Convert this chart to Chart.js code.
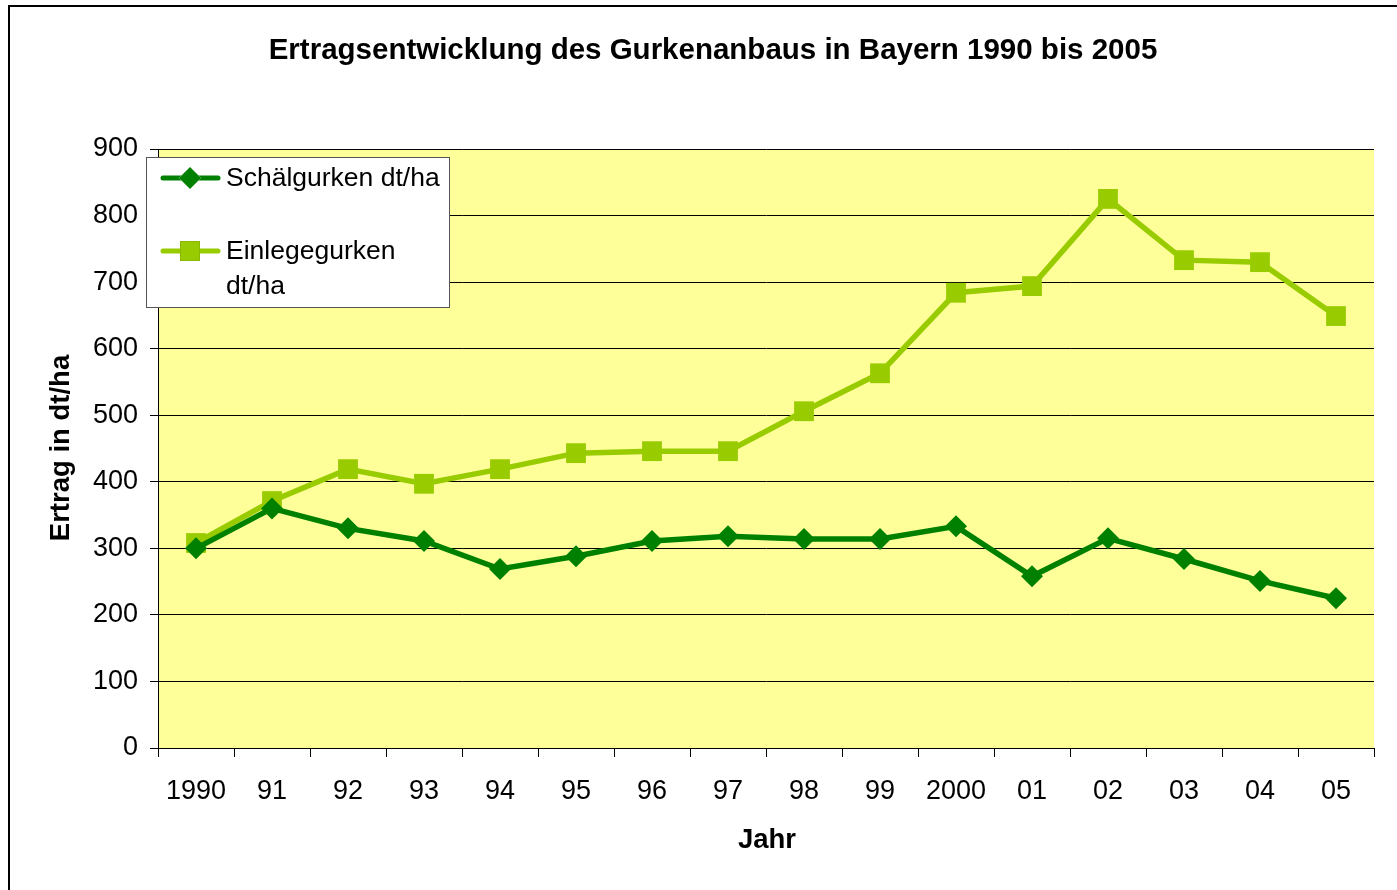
<!DOCTYPE html>
<html>
<head>
<meta charset="utf-8">
<script src="https://cdn.jsdelivr.net/npm/chart.js@4.4.1/dist/chart.umd.min.js"></script>
<style>
html,body{margin:0;padding:0;background:#fff;}
#wrap{width:1397px;height:890px;position:relative;}
</style>
</head>
<body>
<div id="wrap"><canvas id="c" width="1397" height="890"></canvas></div>
<script>
const categories = ['1990','91','92','93','94','95','96','97','98','99','2000','01','02','03','04','05'];
const schaelgurken = [300, 360, 330, 311, 269, 288, 311, 318, 314, 314, 333, 258, 315, 284, 251, 225];
const einlegegurken = [308, 371, 419, 397, 419, 443, 446, 446, 506, 563, 684, 694, 825, 733, 730, 649];
const yTicks = [0, 100, 200, 300, 400, 500, 600, 700, 800, 900];
const titleText = 'Ertragsentwicklung des Gurkenanbaus in Bayern 1990 bis 2005';
const xTitle = 'Jahr';
const yTitle = 'Ertrag in dt/ha';
const seriesNames = ['Schälgurken dt/ha', ['Einlegegurken', 'dt/ha']];

const DARK = '#008000';
const LIGHT = '#99CC00';
const FONT = '"Liberation Sans", Arial, sans-serif';

const decor = {
  id: 'decor',
  beforeDraw(chart) {
    const {ctx, chartArea: a} = chart;
    ctx.save();
    ctx.fillStyle = '#FFFF99';
    ctx.fillRect(a.left, a.top, a.right - a.left, a.bottom - a.top);
    ctx.restore();
  },
  afterDraw(chart) {
    const {ctx} = chart;
    ctx.save();
    // outer border
    ctx.strokeStyle = '#000';
    ctx.lineWidth = 2;
    ctx.beginPath();
    ctx.moveTo(9, 900); ctx.lineTo(9, 6); ctx.lineTo(1400, 6);
    ctx.stroke();
    // title
    ctx.fillStyle = '#000';
    ctx.textAlign = 'center';
    ctx.textBaseline = 'middle';
    ctx.font = 'bold 29.5px ' + FONT;
    ctx.fillText(titleText, 713, 51);
    ctx.font = 'bold 27.5px ' + FONT;
    ctx.fillText(xTitle, 767, 840);
    ctx.save();
    ctx.translate(61, 448);
    ctx.rotate(-Math.PI / 2);
    ctx.fillText(yTitle, 0, 0);
    ctx.restore();
    // legend
    ctx.fillStyle = '#fff';
    ctx.fillRect(146, 157, 303, 150);
    ctx.strokeStyle = '#555';
    ctx.lineWidth = 1;
    ctx.strokeRect(146.5, 157.5, 303, 150);
    const ds = chart.data.datasets;
    const rows = [178, 251];
    ds.forEach((d, i) => {
      const y = rows[i];
      ctx.strokeStyle = d.borderColor;
      ctx.lineWidth = 5;
      ctx.lineCap = 'round';
      ctx.beginPath(); ctx.moveTo(163, y); ctx.lineTo(218, y); ctx.stroke();
      Chart.helpers.drawPoint(ctx, {pointStyle: d.pointStyle, radius: d.pointRadius, borderWidth: 0}, 190, y);
      ctx.fillStyle = d.pointBackgroundColor;
      ctx.fill();
      ctx.fillStyle = '#000';
      ctx.font = '26.5px ' + FONT;
      ctx.textAlign = 'left';
      ctx.textBaseline = 'middle';
      const lbl = seriesNames[i];
      if (Array.isArray(lbl)) {
        lbl.forEach((t, k) => ctx.fillText(t, 226, y + 1 + k * 35));
      } else {
        ctx.fillText(lbl, 226, y + 1);
      }
    });
    ctx.restore();
  }
};

new Chart(document.getElementById('c'), {
  type: 'line',
  data: {
    labels: categories,
    datasets: [
      {
        label: 'Schälgurken dt/ha',
        data: schaelgurken,
        borderColor: DARK,
        backgroundColor: DARK,
        pointBackgroundColor: DARK,
        pointBorderColor: DARK,
        borderWidth: 5.5,
        pointStyle: 'rectRot',
        pointRadius: 11,
        pointBorderWidth: 0,
        tension: 0
      },
      {
        label: 'Einlegegurken dt/ha',
        data: einlegegurken,
        borderColor: LIGHT,
        backgroundColor: LIGHT,
        pointBackgroundColor: LIGHT,
        pointBorderColor: LIGHT,
        borderWidth: 5.5,
        pointStyle: 'rect',
        pointRadius: 14,
        pointBorderWidth: 0,
        tension: 0
      }
    ]
  },
  options: {
    responsive: false,
    animation: false,
    events: [],
    layout: { padding: { left: 0, right: 23, top: 149, bottom: 0 } },
    plugins: { legend: { display: false }, title: { display: false }, tooltip: { enabled: false } },
    scales: {
      x: {
        type: 'category',
        offset: true,
        grid: { offset: true, drawOnChartArea: false, drawTicks: true, tickLength: 9, color: '#000', lineWidth: 1 },
        border: { display: true, color: '#000', width: 1 },
        ticks: { color: '#000', font: { family: FONT, size: 27 }, padding: 18, maxRotation: 0, autoSkip: false },
        afterFit(s) { s.height = 142; }
      },
      y: {
        min: 0, max: 900,
        afterBuildTicks(s) { s.ticks = yTicks.map(v => ({ value: v })); },
        grid: { color: '#000', lineWidth: 1, drawTicks: true, tickLength: 8 },
        border: { display: true, color: '#000', width: 1 },
        ticks: { color: '#000', font: { family: FONT, size: 27 }, padding: 12 },
        afterFit(s) { s.width = 158; }
      }
    }
  },
  plugins: [decor]
});
</script>
</body>
</html>
